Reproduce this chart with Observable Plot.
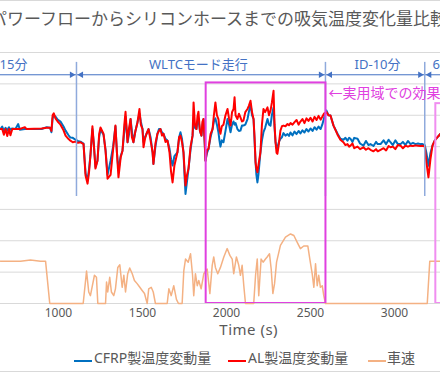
<!DOCTYPE html>
<html><head><meta charset="utf-8">
<script src="https://cdn.jsdelivr.net/npm/d3@7"></script>
<script src="https://cdn.jsdelivr.net/npm/@observablehq/plot@0.6"></script>
<style>
body{margin:0;background:#fff}
#wrap{position:relative;width:440px;height:374px;overflow:hidden;background:#fff}
.t{position:absolute;white-space:nowrap;color:#595959;line-height:1}
.sw{position:absolute;height:2px;width:18px}
</style></head>
<body>
<div id="wrap">
  <div id="chart" style="position:absolute;left:0;top:0"></div>
  <div style="position:absolute;left:0;top:0;width:440px;height:1px;background:#d9d9d9"></div>
  <div style="position:absolute;left:0;top:371px;width:440px;height:1px;background:#d9d9d9"></div>
  <div class="t" style="left:-101.5px;width:640px;top:9px;text-align:center;font:17px 'Noto Sans CJK JP';line-height:17px">パワーフローからシリコンホースまでの吸気温度変化量比較</div>
  <div class="t" style="left:148.7px;width:200px;top:321.7px;text-align:center;font:15px 'Noto Sans','Noto Sans CJK JP';line-height:15px;letter-spacing:0.5px">Time (s)</div>
  <div class="sw" style="left:74px;top:360px;background:#0070c0"></div>
  <div class="t" style="left:94px;top:350.6px;font:14px 'Noto Sans','Noto Sans CJK JP';line-height:14px">CFRP製温度変動量</div>
  <div class="sw" style="left:228px;top:360px;background:#ff0000"></div>
  <div class="t" style="left:248px;top:350.6px;font:14px 'Noto Sans','Noto Sans CJK JP';line-height:14px">AL製温度変動量</div>
  <div class="sw" style="left:368px;top:360px;background:#f4b183"></div>
  <div class="t" style="left:387px;top:350.6px;font:14px 'Noto Sans','Noto Sans CJK JP';line-height:14px">車速</div>
</div>
<script>
// Time axis (s)
const time = [
  655,665,675,685,695,705,714,725,744,760,
  770,800,810,900,930,950,958,965,972,982,
  995,1012,1030,1042,1060,1071,1085,1101,1115,1131,
  1149,1161,1173,1182,1190,1202,1210,1220,1232,1242,
  1250,1260,1268,1280,1292,1310,1325,1339,1348,1357,
  1370,1381,1392,1399,1411,1420,1429,1437,1446,1458,
  1470,1482,1490,1500,1506,1515,1524,1536,1548,1560,
  1565,1577,1589,1598,1607,1616,1625,1637,1649,1661,
  1670,1679,1690,1708,1718,1726,1735,1744,1750,1756,
  1765,1774,1786,1798,1804,1812,1821,1827,1833,1842,
  1851,1857,1863,1870,1875,1884,1893,1905,1917,1925,
  1934,1943,1952,1958,1964,1972,1982,1994,2006,2015,
  2024,2033,2042,2048,2054,2065,2074,2083,2092,2101,
  2112,2125,2133,2143,2152,2161,2167,2173,2178,2184,
  2190,2202,2211,2220,2230,2244,2253,2262,2270,2280,
  2286,2292,2298,2303,2312,2321,2330,2339,2351,2363,
  2372,2381,2393,2405,2417,2429,2440,2452,2464,2476,
  2488,2500,2512,2524,2536,2548,2560,2570,2580,2595,
  2607,2619,2637,2661,2678,2696,2708,2720,2730,2738,
  2750,2760,2780,2795,2815,2830,2845,2857,2875,2890,
  2900,2917,2935,2950,2965,2976,2990,3005,3020,3036,
  3050,3065,3080,3095,3110,3125,3140,3155,3167,3180,
  3190,3202,3214,3226,3240,3256,3274
];
// CFRP製温度変動量 (°C)
const cfrp = [
  -0.44,-0.36,-0.50,-0.40,-0.48,-0.38,-0.46,-0.42,-0.44,-0.28,
  -0.46,-0.44,-0.44,-0.44,-0.38,-0.40,-0.54,-0.10,0.00,-0.04,
  -0.14,-0.20,-0.36,-0.49,-0.64,-0.71,-0.72,-0.78,-0.82,-0.84,
  -0.90,-1.85,-2.08,-1.70,-1.29,-0.44,-0.90,-1.65,-1.45,-0.70,
  -0.45,-0.55,-0.62,-1.10,-1.90,-1.45,-1.00,-0.35,-1.20,-1.76,
  -1.30,-1.13,-0.50,-0.04,-0.86,-0.60,-0.12,-0.50,-0.86,-0.50,
  -0.23,0.05,-0.20,-0.44,-0.85,-0.70,-0.59,-0.44,-0.70,-1.18,
  -1.55,-1.00,-0.59,-0.44,-0.44,-0.55,-0.59,-0.75,-0.81,-1.07,
  -1.40,-1.60,-1.30,-1.18,-0.70,-0.54,-0.75,-1.18,-1.90,-2.51,
  -2.10,-1.70,-1.10,-0.65,-0.20,-0.40,-0.44,-0.20,-0.12,-0.50,
  -0.65,-0.30,-0.12,-0.90,-1.45,-1.20,-1.07,-0.70,-0.44,-0.20,
  -0.10,-0.30,-0.54,-0.80,-1.00,-0.80,-0.86,-0.50,-0.12,-0.30,
  -0.54,-0.30,-0.20,-0.30,-0.25,-0.44,-0.50,-0.49,-0.33,-0.33,
  -0.30,-0.12,0.10,0.36,0.00,-0.12,-0.80,-1.50,-1.90,-2.14,
  -1.90,-1.18,-0.80,-0.54,-0.40,-0.12,-0.30,-0.33,0.00,0.25,
  -0.40,-0.86,-1.05,-1.02,-0.85,-0.75,-0.70,-0.57,-0.65,-0.60,
  -0.66,-0.55,-0.64,-0.52,-0.60,-0.50,-0.58,-0.48,-0.55,-0.44,
  -0.52,-0.42,-0.50,-0.38,-0.46,-0.36,-0.44,-0.30,-0.10,0.15,
  0.00,-0.01,-0.33,-0.59,-0.75,-0.78,-0.72,-0.81,-0.72,-0.75,
  -0.85,-0.72,-0.75,-0.90,-0.97,-0.82,-0.95,-0.92,-0.98,-0.85,
  -0.92,-0.92,-0.80,-0.92,-0.78,-0.86,-0.95,-0.80,-0.92,-0.92,
  -0.85,-0.95,-0.82,-0.92,-0.88,-0.92,-0.90,-0.92,-0.92,-0.95,
  -1.20,-1.61,-1.20,-0.97,-0.80,-0.70,-0.59
];
// AL製温度変動量 (°C)
const al = [
  -0.44,-0.44,-0.62,-0.44,-0.66,-0.44,-0.64,-0.44,-0.44,-0.44,
  -0.44,-0.38,-0.44,-0.42,-0.40,-0.40,-0.50,0.00,0.06,-0.10,
  -0.20,-0.30,-0.48,-0.65,-0.76,-0.81,-0.86,-0.84,-0.88,-0.86,
  -0.92,-1.92,-2.18,-1.80,-1.29,-0.35,-0.90,-1.70,-1.45,-0.60,
  -0.39,-0.50,-0.59,-1.13,-2.02,-1.90,-1.10,-0.33,-1.20,-1.98,
  -1.35,-1.13,-0.30,0.11,-0.86,-0.40,-0.12,-0.70,-0.86,-0.50,
  -0.23,0.20,-0.30,-0.44,-1.02,-0.75,-0.59,-0.44,-0.80,-1.18,
  -1.55,-0.90,-0.59,-0.50,-0.44,-0.65,-0.59,-0.85,-0.81,-1.20,
  -1.80,-2.14,-1.60,-1.18,-0.70,-0.65,-0.85,-1.18,-1.70,-2.24,
  -1.90,-1.70,-1.00,-0.65,0.41,-0.30,-0.44,-0.05,0.11,-0.50,
  -0.65,-0.20,-0.12,-0.80,-1.45,-1.10,-1.07,-0.60,-0.44,0.00,
  0.41,0.00,-0.12,-0.45,-0.59,-0.35,-0.30,0.00,0.20,-0.10,
  -0.33,0.10,0.20,0.57,0.00,-0.12,0.05,-0.07,-0.20,-0.17,
  0.10,0.20,0.30,0.46,0.10,-0.12,-0.70,-1.50,-1.70,-1.82,
  -1.60,-1.18,-0.30,0.20,0.10,0.25,0.00,0.15,0.40,0.78,
  -0.30,-0.86,-1.20,-1.23,-0.90,-0.49,-0.35,-0.33,-0.35,-0.28,
  -0.32,-0.25,-0.30,-0.22,-0.15,-0.30,-0.20,-0.12,-0.25,-0.10,
  -0.18,-0.08,-0.20,-0.05,-0.15,-0.02,-0.14,-0.05,0.05,0.10,
  0.00,-0.01,-0.33,-0.62,-0.78,-0.86,-0.95,-0.92,-1.00,-0.97,
  -0.90,-1.05,-1.00,-1.08,-1.02,-1.10,-1.05,-1.10,-1.15,-1.08,
  -1.15,-1.10,-1.05,-1.12,-0.98,-1.02,-1.00,-1.08,-0.95,-0.97,
  -1.05,-0.97,-1.00,-0.97,-0.98,-0.96,-0.97,-0.98,-0.97,-1.00,
  -1.50,-1.98,-1.40,-0.97,-0.80,-0.70,-0.59
];
// 車速 (km/h), secondary axis 0–480
const speedTime = [
  655,774,833,893,923,948,1147,1167,1180,1190,1214,1226,1234,1280,1286,1293,1305,1315,1329,1339,
  1353,1365,1379,1389,1399,1412,1424,1439,1452,1468,1484,1498,1512,1528,1537,1552,1564,1577,1647,1657,
  1671,1686,1702,1714,1736,1746,1756,1772,1786,1798,1805,1815,1826,1835,1849,1865,1885,1901,1915,1924,
  1934,1948,1964,1984,2004,2020,2034,2043,2059,2073,2083,2093,2103,2113,2162,2173,2183,2192,2206,2218,
  2232,2242,2256,2266,2276,2286,2298,2321,2351,2381,2401,2421,2440,2460,2484,2496,2510,2520,2530,2540,
  2549,2559,2570,2579,2589,3195,3210,3274
];
const speedKmh = [
  81,81,83,81,81,0,0,62,22,15,54,50,0,0,41,22,50,22,15,28,
  69,74,31,54,22,57,68,57,44,38,31,25,19,0,28,31,22,0,0,28,
  15,34,8,0,0,63,85,79,95,54,15,57,34,44,28,57,66,19,73,89,
  69,57,69,89,105,92,85,57,89,73,54,73,34,0,0,54,85,15,85,79,
  85,89,95,66,19,38,79,111,127,133,130,117,105,110,110,85,57,31,76,34,
  54,31,34,15,0,0,81,81
];
const tempDomain = [-6, 2];        // primary axis (°C)
const speedMax = 480;              // secondary axis top (km/h)
const xTicks = [1000, 1500, 2000, 2500, 3000];
const phaseBounds = [1107, 2589, 3180];
const phaseLabelsEnd = [{t: 815, text: "ID-15分"}];
const phaseLabelsMid = [{t: 1833, text: "WLTCモード走行"}, {t: 2899, text: "ID-10分"}];
const phaseLabelsStart = [{t: 3226, text: "60分"}];
const boxes = [
  {x1: 1879, x2: 2592, y1: -6, y2: 1.03, c: "#e040e0"},
  {x1: 3246, x2: 3400, y1: -6, y2: 0.37, c: "#f08ef0"}
];

const temps = time.map((t, i) => ({t, cfrp: cfrp[i], al: al[i]}));
const speed = speedTime.map((t, i) => ({t, y: tempDomain[0] + speedKmh[i] * (tempDomain[1] - tempDomain[0]) / speedMax}));
const grid = d3.range(tempDomain[0], tempDomain[1] + 1, 1);
const arrowY = 1.29, labelY = 1.61, sepTop = 1.685, sepBottom = -2.59;
const F = "'Noto Sans','Noto Sans CJK JP',sans-serif";

const chart = Plot.plot({
  width: 440, height: 374,
  marginTop: 52, marginBottom: 71, marginLeft: 0, marginRight: 0,
  style: {fontFamily: F, fontSize: "12px", color: "#595959", background: "transparent"},
  x: {domain: [654.8, 3273.8], ticks: xTicks, tickSize: 0, tickPadding: 5, tickFormat: "d", label: null},
  y: {domain: tempDomain, axis: null},
  marks: [
    Plot.ruleY(grid, {stroke: "#d9d9d9", strokeWidth: 1}),
    Plot.line(speed, {x: "t", y: "y", stroke: "#f4b183", strokeWidth: 1.5}),
    Plot.line(temps, {x: "t", y: "cfrp", stroke: "#0070c0", strokeWidth: 2}),
    Plot.line(temps, {x: "t", y: "al", stroke: "#ff0000", strokeWidth: 2}),
    Plot.ruleY([arrowY], {stroke: "#4472c4", strokeWidth: 1}),
    Plot.ruleX(phaseBounds, {x: d => d, y1: sepBottom, y2: sepTop, stroke: "#8faadc", strokeWidth: 1.5}),
    Plot.dot(phaseBounds, {x: d => d, y: arrowY, symbol: "triangle", rotate: 90, r: 2.4, fill: "#4472c4", stroke: null, dx: -4.7}),
    Plot.dot(phaseBounds, {x: d => d, y: arrowY, symbol: "triangle", rotate: -90, r: 2.4, fill: "#4472c4", stroke: null, dx: 4.7}),
    Plot.text(phaseLabelsEnd, {x: "t", y: labelY, text: "text", textAnchor: "end", fill: "#4472c4", fontSize: 13}),
    Plot.text(phaseLabelsMid, {x: "t", y: labelY, text: "text", textAnchor: "middle", fill: "#4472c4", fontSize: 13}),
    Plot.text(phaseLabelsStart, {x: "t", y: labelY, text: "text", textAnchor: "start", fill: "#4472c4", fontSize: 13}),
    Plot.rect(boxes, {x1: "x1", x2: "x2", y1: "y1", y2: "y2", fill: "none", stroke: "c", strokeWidth: 2, clip: true}),
    Plot.text(["←実用域での効果"], {x: phaseBounds[1], y: 0.69, dx: 3, text: d => d, textAnchor: "start", fill: "#e040e0", fontSize: 14, fontFamily: "'Noto Sans CJK JP'"})
  ]
});
document.getElementById("chart").appendChild(chart);
</script>
</body></html>
